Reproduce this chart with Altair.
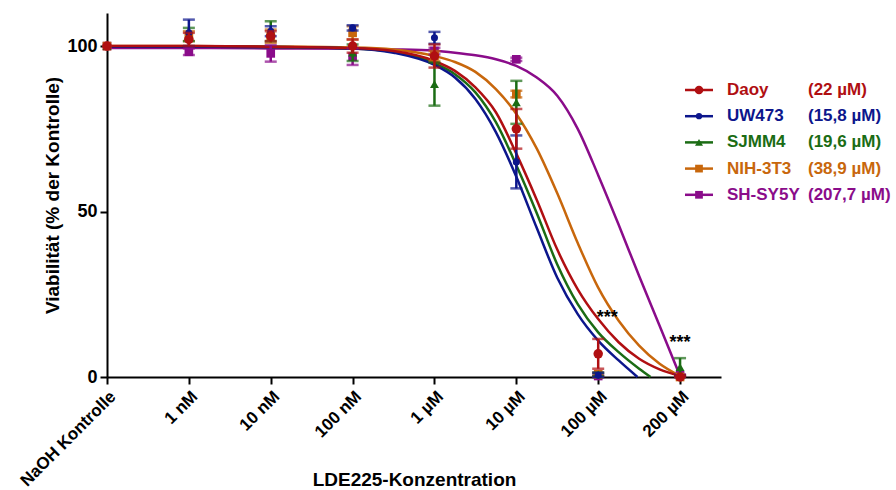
import json
import altair as alt
import pandas as pd

# ---------------- data ----------------
positions = [0, 1, 2, 3, 4, 5, 6, 7]
x_labels = ["NaOH Kontrolle", "1 nM", "10 nM", "100 nM", "1 µM", "10 µM", "100 µM", "200 µM"]

series = ["Daoy", "UW473", "SJMM4", "NIH-3T3", "SH-SY5Y"]
ic50_labels = ["(22 µM)", "(15,8 µM)", "(19,6 µM)", "(38,9 µM)", "(207,7 µM)"]
colors = ["#B00F12", "#0C168C", "#1B6C14", "#C8670C", "#8A0C8A"]
shapes = ["circle", "circle", "triangle-up", "square", "square"]
sizes = [90, 50, 80, 75, 75]

# measured means (% of control) and error (SEM)
daoy_mean = [100, 102, 103, 100, 97, 75, 7, 0]
daoy_err = [0, 2, 1.5, 2, 3.5, 6, 4.5, 0.5]
uw473_mean = [100, 104, 104.5, 105.5, 102.5, 65, 0.5, 0]
uw473_err = [0, 4, 1.5, 0.8, 1.8, 8, 0.8, 0.5]
sjmm4_mean = [100, 103.5, 104.5, 98, 88.5, 83, 0.8, 3]
sjmm4_err = [0, 2, 3, 2.5, 6.5, 6.5, 0.5, 2.7]
nih_mean = [100, 103, 103, 104, 97, 85.5, 0.8, 0]
nih_err = [0, 1.5, 2, 2, 1.5, 1, 0.5, 0.3]
shsy_mean = [100, 98.3, 97.8, 96.8, 98.5, 96, 0.3, 0.5]
shsy_err = [0, 1, 2.5, 2.5, 1, 0.5, 0.3, 0.3]

# fitted curves
daoy_cx = [0, 1, 2, 3, 3.5, 4, 4.25, 4.5, 4.75, 5, 5.25, 5.5, 5.75, 6, 6.25, 6.5, 6.75, 7]
daoy_cy = [100, 100, 99.8, 99.4, 98.5, 95.5, 92.5, 87.5, 80, 67.5, 53.5, 38.5, 26.5, 17.5, 10.5, 5.5, 2.3, 0.3]
uw473_cx = [0, 1, 2, 3, 3.5, 4, 4.25, 4.5, 4.75, 5, 5.25, 5.5, 5.75, 6, 6.25, 6.48]
uw473_cy = [99.8, 99.8, 99.7, 99.3, 98, 94.3, 90.5, 84, 74, 60.5, 45, 30, 19, 11, 5, 0]
sjmm4_cx = [0, 1, 2, 3, 3.5, 4, 4.25, 4.5, 4.75, 5, 5.25, 5.5, 5.75, 6, 6.25, 6.5, 6.64]
sjmm4_cy = [99.8, 99.8, 99.7, 99.3, 98.2, 94.8, 91.5, 86, 77, 64, 49.5, 34, 22, 13.5, 7.5, 2.5, 0]
nih_cx = [0, 1, 2, 3, 3.5, 4, 4.25, 4.5, 4.75, 5, 5.25, 5.5, 5.75, 6, 6.25, 6.5, 6.75, 7]
nih_cy = [100, 100, 99.9, 99.6, 99, 97, 95.2, 92.2, 87, 79.5, 69, 55.5, 40.5, 27, 17, 9.5, 4, 0.3]
shsy_cx = [0, 1, 2, 3, 3.5, 4, 4.25, 4.5, 4.75, 5, 5.25, 5.5, 5.75, 6, 6.25, 6.5, 6.75, 7]
shsy_cy = [99.4, 99.4, 99.3, 99.2, 99, 98.6, 98, 97.2, 96, 94, 90.5, 85, 75, 61, 46, 30.5, 15.5, 0.3]

# significance marks
star_x = [6.11, 7.0]
star_y = [16.2, 8.9]
star_text = ["***", "***"]

means = [daoy_mean, uw473_mean, sjmm4_mean, nih_mean, shsy_mean]
errs = [daoy_err, uw473_err, sjmm4_err, nih_err, shsy_err]
curves_x = [daoy_cx, uw473_cx, sjmm4_cx, nih_cx, shsy_cx]
curves_y = [daoy_cy, uw473_cy, sjmm4_cy, nih_cy, shsy_cy]

FONT = "Liberation Sans"

# ---------------- scales / axes ----------------
xscale = alt.Scale(domain=[0, 7.5], nice=False, zero=False)
yscale = alt.Scale(domain=[0, 110], nice=False)

label_expr = json.dumps(x_labels, ensure_ascii=False) + "[datum.value]"
xaxis = alt.Axis(
    values=positions, labelExpr=label_expr, labelAngle=-45, labelAlign="right",
    labelBaseline="top", labelPadding=4, labelFlush=False, labelOverlap=False,
    labelBound=False, labelFontSize=17, labelFontWeight="bold", labelColor="black",
    labelFont=FONT, tickSize=7, tickWidth=2, tickColor="black", domainWidth=2,
    domainColor="black", grid=False, title="LDE225-Konzentration",
    titleFontSize=19, titleFontWeight="bold", titleFont=FONT, titleColor="black",
    titleX=307, titleY=108, titleAlign="center", titleBaseline="alphabetic",
)
yaxis = alt.Axis(
    values=[0, 50, 100], labelFontSize=18, labelFontWeight="bold", labelColor="black",
    labelFont=FONT, labelPadding=3, tickSize=7, tickWidth=2, tickColor="black",
    domainWidth=2, domainColor="black", grid=False,
    title="Viabilität (% der Kontrolle)", titleFontSize=19, titleFontWeight="bold",
    titleFont=FONT, titleColor="black", titleAngle=270, titleX=-49, titleY=182,
    titleAlign="center", titleBaseline="alphabetic",
)


def X(field):
    return alt.X(field, type="quantitative", scale=xscale, axis=xaxis)


def Y(field):
    return alt.Y(field, type="quantitative", scale=yscale, axis=yaxis)


layers = []
draw_order = [4, 3, 2, 1, 0]  # red on top

# curves
for i in draw_order:
    df = pd.DataFrame({"x": curves_x[i], "y": curves_y[i]})
    layers.append(
        alt.Chart(df).mark_line(color=colors[i], strokeWidth=2.5, interpolate="monotone")
        .encode(x=X("x"), y=Y("y"))
    )

# error bars and points
for i in draw_order:
    rows = []
    caps = []
    for p, m, e in zip(positions, means[i], errs[i]):
        rows.append({"x": p, "m": m, "lo": max(m - e, 0), "hi": m + e})
        if e > 0:
            caps.append({"x": p, "c": m + e})
            caps.append({"x": p, "c": max(m - e, 0)})
    pdf = pd.DataFrame(rows)
    cdf = pd.DataFrame(caps)
    layers.append(
        alt.Chart(pdf).mark_rule(color=colors[i], strokeWidth=2.5)
        .encode(x=X("x"), y=Y("lo"), y2="hi")
    )
    layers.append(
        alt.Chart(cdf).mark_tick(color=colors[i], orient="horizontal", size=12, thickness=2.5)
        .encode(x=X("x"), y=Y("c"))
    )
    layers.append(
        alt.Chart(pdf).mark_point(color=colors[i], shape=shapes[i], filled=True,
                                  size=sizes[i], opacity=1)
        .encode(x=X("x"), y=Y("m"))
    )

# significance stars
sdf = pd.DataFrame({"x": star_x, "y": star_y, "t": star_text})
layers.append(
    alt.Chart(sdf).mark_text(font=FONT, fontSize=18, fontWeight="bold", color="black",
                             baseline="alphabetic", align="center")
    .encode(x=X("x"), y=Y("y"), text="t:N")
)

# legend (drawn to the right of the plot)
for i, name in enumerate(series):
    ry = 77 + i * 26.2
    one = pd.DataFrame({"name": [name], "ic": [ic50_labels[i]]})
    layers.append(
        alt.Chart(one).mark_rule(color=colors[i], strokeWidth=2.5)
        .encode(x=alt.value(578), x2=alt.value(606), y=alt.value(ry))
    )
    layers.append(
        alt.Chart(one).mark_point(color=colors[i], shape=shapes[i], filled=True,
                                  size=sizes[i] * 0.8, opacity=1)
        .encode(x=alt.value(592), y=alt.value(ry))
    )
    layers.append(
        alt.Chart(one).mark_text(font=FONT, fontSize=17, fontWeight="bold", color=colors[i],
                                 align="left", baseline="middle")
        .encode(x=alt.value(620), y=alt.value(ry), text="name:N")
    )
    layers.append(
        alt.Chart(one).mark_text(font=FONT, fontSize=17, fontWeight="bold", color=colors[i],
                                 align="left", baseline="middle")
        .encode(x=alt.value(701), y=alt.value(ry), text="ic:N")
    )

chart = (
    alt.layer(*layers)
    .properties(
        width=614, height=364,
        padding={"left": 107, "top": 13, "right": 175, "bottom": 113},
        autosize=alt.AutoSizeParams(type="none"),
        background="white",
    )
    .configure_view(stroke=None)
)

chart.save("out.html", embed_options={"renderer": "svg", "actions": False})
